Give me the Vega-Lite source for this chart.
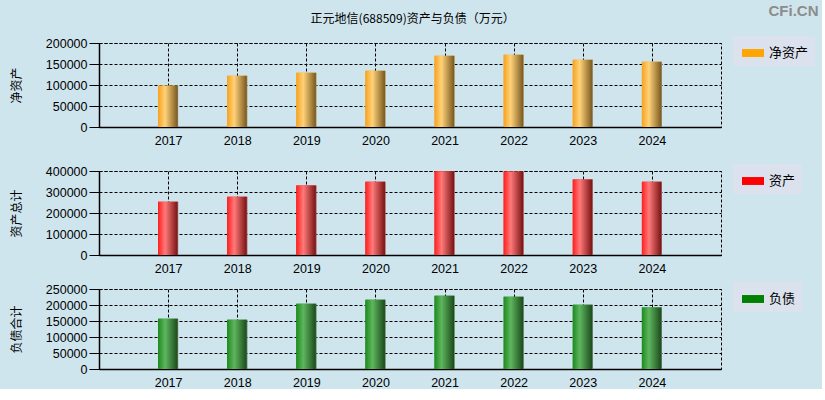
{
  "$schema": "https://vega.github.io/schema/vega-lite/v6.json",
  "background": "#cfe5ee",
  "padding": {"left": 9, "top": 3, "right": 3, "bottom": 0},
  "title": {"text": "CFi.CN", "anchor": "end", "frame": "bounds", "font": "Liberation Sans", "fontSize": 15, "fontWeight": "bold", "color": "#8c8c8c", "offset": -6, "dx": 3},
  "datasets": {
    "d": [
      {"year": "2017", "net": 98600, "assets": 254000, "liab": 157000},
      {"year": "2018", "net": 122300, "assets": 277500, "liab": 154000},
      {"year": "2019", "net": 129400, "assets": 331000, "liab": 204000},
      {"year": "2020", "net": 134200, "assets": 349000, "liab": 216600},
      {"year": "2021", "net": 169800, "assets": 398500, "liab": 229000},
      {"year": "2022", "net": 172200, "assets": 398000, "liab": 226000},
      {"year": "2023", "net": 160300, "assets": 359500, "liab": 201000},
      {"year": "2024", "net": 155600, "assets": 348500, "liab": 192000}
    ]
  },
  "spacing": 6,
  "resolve": {"scale": {"color": "independent"}, "legend": {"color": "independent"}},
  "vconcat": [
    {
      "title": {"text": "正元地信(688509)资产与负债（万元）", "anchor": "middle", "frame": "bounds", "font": "Noto Sans CJK SC", "fontSize": 12, "fontWeight": "normal", "color": "#000000", "offset": 10},
      "width": 622, "height": 84,
      "data": {"name": "d"},
      "encoding": {
        "x": {"field": "year", "type": "ordinal", "scale": {"type": "point", "padding": 1}, "axis": {"minExtent": 29}},
        "y": {"field": "net", "type": "quantitative", "scale": {"domain": [0, 200000], "nice": false}, "axis": {"title": "净资产", "values": [0, 50000, 100000, 150000, 200000]}}
      },
      "layer": [
        {
          "mark": {"type": "bar", "size": 20},
          "encoding": {
            "color": {"datum": "净资产", "scale": {"range": ["#FFA500"]}, "legend": {"orient": "none", "legendX": 634, "legendY": -7}}
          }
        },
        {
          "mark": {"type": "bar", "size": 20, "fill": {"gradient": "linear", "x1": 0, "y1": 0, "x2": 1, "y2": 0, "stops": [{"offset": 0, "color": "#F7A21E"}, {"offset": 0.35, "color": "#FFD27A"}, {"offset": 0.95, "color": "#7E5E22"}, {"offset": 1, "color": "#8a8a8a"}]}}
        }
      ]
    },
    {
      "width": 622, "height": 84,
      "data": {"name": "d"},
      "encoding": {
        "x": {"field": "year", "type": "ordinal", "scale": {"type": "point", "padding": 1}},
        "y": {"field": "assets", "type": "quantitative", "scale": {"domain": [0, 400000], "nice": false}, "axis": {"title": "资产总计", "values": [0, 100000, 200000, 300000, 400000]}}
      },
      "layer": [
        {
          "mark": {"type": "bar", "size": 20},
          "encoding": {
            "color": {"datum": "资产", "scale": {"range": ["#FF0000"]}, "legend": {"orient": "none", "legendX": 634, "legendY": -7}}
          }
        },
        {
          "mark": {"type": "bar", "size": 20, "fill": {"gradient": "linear", "x1": 0, "y1": 0, "x2": 1, "y2": 0, "stops": [{"offset": 0, "color": "#FF1E1E"}, {"offset": 0.35, "color": "#FF7A7A"}, {"offset": 0.95, "color": "#7E1616"}, {"offset": 1, "color": "#8a8a8a"}]}}
        }
      ]
    },
    {
      "width": 622, "height": 80,
      "data": {"name": "d"},
      "encoding": {
        "x": {"field": "year", "type": "ordinal", "scale": {"type": "point", "padding": 1}},
        "y": {"field": "liab", "type": "quantitative", "scale": {"domain": [0, 250000], "nice": false}, "axis": {"title": "负债合计", "values": [0, 50000, 100000, 150000, 200000, 250000]}}
      },
      "layer": [
        {
          "mark": {"type": "bar", "size": 20},
          "encoding": {
            "color": {"datum": "负债", "scale": {"range": ["#008000"]}, "legend": {"orient": "none", "legendX": 634, "legendY": -7}}
          }
        },
        {
          "mark": {"type": "bar", "size": 20, "fill": {"gradient": "linear", "x1": 0, "y1": 0, "x2": 1, "y2": 0, "stops": [{"offset": 0, "color": "#1E8A1E"}, {"offset": 0.35, "color": "#5EB65E"}, {"offset": 0.95, "color": "#1E4E1E"}, {"offset": 1, "color": "#8a8a8a"}]}}
        }
      ]
    }
  ],
  "config": {
    "view": {"stroke": "#000000", "strokeDash": [3, 2], "strokeWidth": 1, "fill": null},
    "axis": {
      "labelFont": "Liberation Sans", "labelFontSize": 12.5, "labelColor": "#000000",
      "domainColor": "#000000", "domainWidth": 1.5,
      "gridColor": "#000000", "gridDash": [3, 2], "gridWidth": 1, "gridOpacity": 1,
      "tickColor": "#000000",
      "titleFont": "Noto Sans CJK SC", "titleFontSize": 12, "titleFontWeight": "normal", "titleColor": "#000000"
    },
    "axisX": {"title": null, "ticks": false, "labelAngle": 0, "labelPadding": 7, "grid": true},
    "axisY": {"tickSize": 10, "labelPadding": 2, "titlePadding": 22, "grid": true, "format": "d", "labelOverlap": false, "labelBound": false},
    "legend": {
      "title": null, "padding": 6, "symbolOffset": 3,
      "labelFont": "Noto Sans CJK SC", "labelFontSize": 13, "labelColor": "#000000", "labelOffset": 5,
      "symbolType": "M-1,-0.36H1V0.36H-1Z", "symbolSize": 484, "symbolStrokeWidth": 0, "symbolOpacity": 1,
      "fillColor": "#dbe2ee",
      "encode": {"legend": {"update": {"fill": {"value": {"gradient": "linear", "x1": 0, "y1": 0, "x2": 0, "y2": 1, "stops": [{"offset": 0, "color": "#b4c6e0"}, {"offset": 1, "color": "#f4f4f8"}]}}}}}
    }
  }
}
